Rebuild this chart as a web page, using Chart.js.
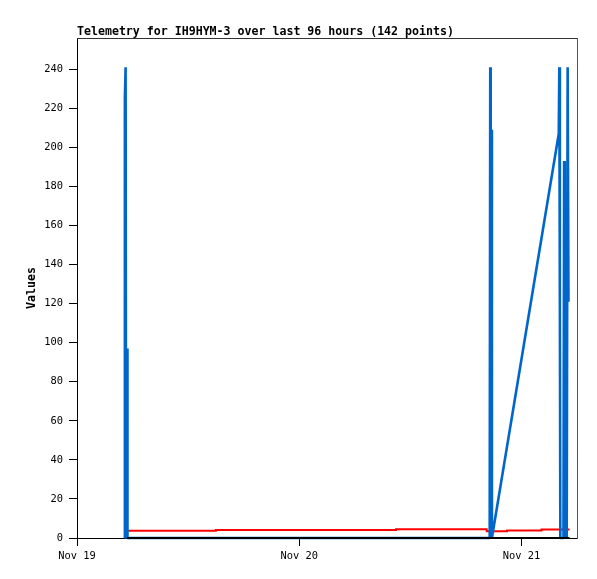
<!DOCTYPE html>
<html><head><meta charset="utf-8">
<script src="https://cdn.jsdelivr.net/npm/chart.js@4.4.0/dist/chart.umd.min.js"></script>
<style>html,body{margin:0;padding:0;background:#fff}canvas{display:block}</style>
</head><body>
<canvas id="c" width="597" height="579"></canvas>
<script>
// ---- data (hours since Nov 19 00:00) ----
const chartTitle = 'Telemetry for IH9HYM-3 over last 96 hours (142 points)';
const yAxisTitle = 'Values';
const xTickHours = [0, 24, 48];
const xTickLabels = ['Nov 19', 'Nov 20', 'Nov 21'];
const yTickValues = [0, 20, 40, 60, 80, 100, 120, 140, 160, 180, 200, 220, 240];

const blueHours  = [5.13, 5.17, 5.25, 5.30, 5.41, 5.45, 44.20, 44.57, 44.63, 44.68, 44.76, 44.81, 52.03, 52.09, 52.15, 52.20, 52.54, 52.61, 52.68, 52.79, 52.89, 52.99, 53.08];
const blueValues = [0,    225,  241,  0,    97,   0,    0,     0,     241,   0,     209,   0,     207,   241,   121,   0,     0,     193,   0,     128,   0,     241,   121];

const redHours  = [5.40, 15.00, 34.45, 44.25, 46.45, 50.16, 53.20];
const redValues = [3.7,  4.1,   4.5,   3.4,   3.8,   4.4,   4.4];

const blackHours  = [5.40, 53.20];
const blackValues = [0, 0];

const xMin = 0, xMax = 54, yMin = 0, yMax = 256;

const toPts = (xs, ys) => xs.map((x, i) => ({x: x, y: ys[i]}));
const MONO = '"DejaVu Sans Mono", "Liberation Mono", monospace';

const titlePlugin = {
  id: 'topTitle',
  afterDraw(chart) {
    const ctx = chart.ctx;
    ctx.save();
    ctx.font = 'bold 11.6px ' + MONO;
    ctx.fillStyle = '#000';
    ctx.textAlign = 'left';
    ctx.textBaseline = 'alphabetic';
    ctx.fillText(chartTitle, chart.chartArea.left, chart.chartArea.top - 3);
    ctx.restore();
  }
};

new Chart(document.getElementById('c'), {
  type: 'line',
  data: {
    datasets: [
      { label: 'black', data: toPts(blackHours, blackValues), borderColor: '#000000', borderWidth: 2, pointRadius: 0, clip: false, tension: 0 },
      { label: 'blue', data: toPts(blueHours, blueValues), borderColor: '#0066CC', borderWidth: 2.6, pointRadius: 0, clip: false, tension: 0, borderJoinStyle: 'bevel' },
      { label: 'red', data: toPts(redHours, redValues), borderColor: '#FF0000', borderWidth: 2, pointRadius: 0, clip: false, stepped: true }
    ]
  },
  options: {
    responsive: false,
    animation: false,
    devicePixelRatio: 1,
    layout: { padding: { top: 38, right: 20, left: 0, bottom: 0 } },
    plugins: { legend: { display: false }, tooltip: { enabled: false }, title: { display: false } },
    scales: {
      x: {
        type: 'linear', position: 'bottom', min: xMin, max: xMax,
        afterBuildTicks: s => { s.ticks = xTickHours.map(v => ({value: v})); },
        afterFit: s => { s.height = 41; },
        ticks: {
          autoSkip: false, maxRotation: 0, padding: 4, color: '#000',
          font: { family: MONO, size: 10.4 },
          callback: v => { const i = xTickHours.indexOf(v); return i >= 0 ? xTickLabels[i] : ''; }
        },
        grid: { display: true, drawOnChartArea: false, drawTicks: true, tickLength: 8, color: '#000', lineWidth: 1 },
        border: { display: true, color: '#000', width: 1 }
      },
      y: {
        type: 'linear', position: 'left', min: yMin, max: yMax,
        afterBuildTicks: s => { s.ticks = yTickValues.map(v => ({value: v})); },
        afterFit: s => { s.width = 77; },
        ticks: { padding: 6, color: '#000', font: { family: MONO, size: 10.4 } },
        grid: { display: true, drawOnChartArea: false, drawTicks: true, tickLength: 8, color: '#000', lineWidth: 1 },
        border: { display: true, color: '#000', width: 1 },
        title: { display: true, text: yAxisTitle, color: '#000', font: { family: MONO, size: 11.6, weight: 'bold' }, padding: { top: 25, bottom: 0 } }
      },
      xTop: {
        type: 'linear', position: 'top', min: xMin, max: xMax,
        afterFit: s => { s.height = 0; },
        ticks: { display: false },
        grid: { display: false, drawTicks: false },
        border: { display: true, color: '#333', width: 1 }
      },
      yRight: {
        type: 'linear', position: 'right', min: yMin, max: yMax,
        afterFit: s => { s.width = 0; },
        ticks: { display: false },
        grid: { display: false, drawTicks: false },
        border: { display: true, color: '#555', width: 1 }
      }
    }
  },
  plugins: [titlePlugin]
});
</script>
</body></html>
